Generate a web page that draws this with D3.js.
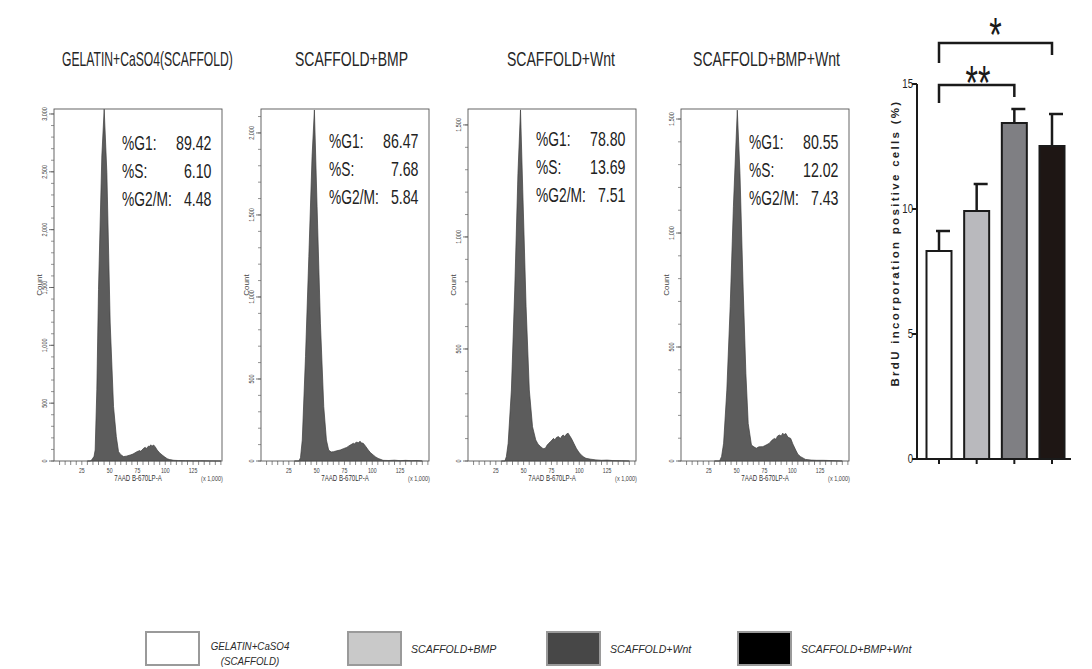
<!DOCTYPE html>
<html>
<head>
<meta charset="utf-8">
<script src="https://cdn.jsdelivr.net/npm/d3@7"></script>
<style>
  html, body { margin: 0; padding: 0; background: #fff; }
  svg { display: block; }
  text { font-family: 'Liberation Sans', Arial, Helvetica, sans-serif; }
</style>
</head>
<body>
<svg id="chart" width="1092" height="669"></svg>
<script>
// ---------------- DATA ----------------
const groups = ["GELATIN+CaSO4(SCAFFOLD)", "SCAFFOLD+BMP", "SCAFFOLD+Wnt", "SCAFFOLD+BMP+Wnt"];
const pctG1 = [89.42, 86.47, 78.80, 80.55];
const pctS = [6.10, 7.68, 13.69, 12.02];
const pctG2M = [4.48, 5.84, 7.51, 7.43];
const countMax = [3043, 2146, 1571, 1544];
const countTicks = [
  [0, 500, 1000, 1500, 2000, 2500, 3000],
  [0, 500, 1000, 1500, 2000],
  [0, 500, 1000, 1500],
  [0, 500, 1000, 1500]
];
const channelTicks = [25, 50, 75, 100, 125];

// histogram: [7AAD channel (x1000), count]
const hist1 = [[30,0],[32.5,0],[34,10],[36,40],[37,95],[38.5,615],[40,1482],[43,2637],[45.1,3042],[47.5,2493],[50.5,1193],[53.5,471],[56,211],[58,81],[60,55],[62.5,38],[65,42],[68.6,52],[71,60],[74.6,81],[77,90],[78,84],[80.6,110],[82,118],[83,108],[85.1,130],[86,125],[87,140],[88,128],[89.6,138],[91,122],[92.7,95],[95,70],[97.2,52],[99,38],[101.7,20],[104,12],[107.7,6],[112,4],[118,3],[125,2],[132,2],[140,1],[150,0]];
const hist2 = [[30,0],[34.1,0],[35.5,20],[37.1,128],[40,636],[43,1246],[45.9,1856],[48,2140],[50.4,1551],[53.4,840],[56.4,331],[58.8,128],[60.8,67],[63,55],[65.3,57],[68,62],[71.2,67],[74,75],[77.1,83],[79,92],[81,100],[83,108],[84,104],[85.5,115],[87.5,112],[89,120],[90.5,110],[91.9,108],[94,90],[96.4,67],[98.5,50],[100.8,37],[103,25],[105.3,16],[109.7,4],[115,3],[120,5],[125,2],[130,4],[135,2],[140,3],[145,0]];
const hist3 = [[30,0],[33.2,0],[34.5,20],[36.1,79],[39,317],[42,763],[44.9,1284],[47.2,1567],[49.2,1210],[52.2,689],[55.1,317],[58,153],[60.9,94],[63,75],[65.3,64],[67.5,55],[69.6,57],[71,70],[72.6,79],[74.5,88],[76.9,101],[78,94],[79.5,105],[81.3,109],[83,100],[84.5,112],[85.7,116],[87,108],[88.5,120],[90,124],[91.5,112],[92.9,101],[95,80],[97.3,57],[99.5,40],[101.7,27],[104,18],[106,12],[110.4,8],[115,5],[120,3],[125,4],[130,2],[138,1],[145,0]];
const hist4 = [[30,0],[34.7,0],[36.5,20],[38.3,78],[41.2,311],[44.2,677],[47.1,1115],[50.6,1539],[53,1262],[55.9,750],[58.3,385],[60.4,165],[63.3,70],[65.5,62],[67.7,56],[70,62],[73.6,63],[76.5,70],[79.5,78],[81.5,90],[83.9,99],[85.5,95],[86.5,108],[88.3,114],[90,110],[91.5,122],[92.5,115],[94.2,121],[96,105],[98.6,99],[100.5,75],[103.1,48],[105,30],[107.5,19],[111.9,7],[117,4],[122,3],[128,3],[134,2],[140,1],[145,0]];
const histograms = [hist1, hist2, hist3, hist4];

// BrdU bar chart
const brduMean = [8.32, 9.92, 13.44, 12.52];
const brduErr = [0.80, 1.08, 0.56, 1.28];
const brduTicks = [0, 5, 10, 15];
const sigPairs = [{a: 0, b: 2, label: "**"}, {a: 0, b: 3, label: "*"}];

const legendLabels = [["GELATIN+CaSO4", "(SCAFFOLD)"], ["SCAFFOLD+BMP"], ["SCAFFOLD+Wnt"], ["SCAFFOLD+BMP+Wnt"]];
const legendColors = ["#ffffff", "#c9c9c9", "#474747", "#000000"];
const barColors = ["#ffffff", "#b9b9bd", "#7f7f83", "#1e1614"];

// ---------------- DRAW ----------------
const svg = d3.select("#chart");
svg.append("rect").attr("width", 1092).attr("height", 669).attr("fill", "#fff");

// condensed text helper (no narrow font installed)
function narrow(parent, x, y, str, size, anchor, sx, fill) {
  return parent.append("text")
    .attr("transform", `translate(${x},${y}) scale(${sx},1)`)
    .attr("font-size", size).attr("text-anchor", anchor || "start")
    .attr("fill", fill || "#222").text(str);
}

const panelLeft = [54, 261, 468, 681];
const panelW = 168, panelTop = 109, panelBottom = 461;
const titleX = [62, 295, 507, 693];
const titleW = [171, 113, 108, 147];
const statBase = [150, 148, 146, 149];

groups.forEach((name, i) => {
  const g = svg.append("g");
  const x = d3.scaleLinear().domain([0, 151]).range([panelLeft[i], panelLeft[i] + panelW]);
  const y = d3.scaleLinear().domain([0, countMax[i]]).range([panelBottom, panelTop]);

  // title, horizontally condensed to the measured width
  const t = g.append("text")
    .attr("font-size", 20).attr("fill", "#262626")
    .text(name);
  const natural = t.node().getComputedTextLength();
  t.attr("transform", `translate(${titleX[i]},66) scale(${titleW[i] / natural},1)`);

  // histogram area
  const area = d3.area().x(d => x(d[0])).y0(y(0)).y1(d => y(d[1])).curve(d3.curveLinear);
  g.append("path").datum(histograms[i]).attr("d", area)
    .attr("fill", "#5c5c5c").attr("stroke", "#3c3c3c").attr("stroke-width", 0.7);

  // frame
  g.append("rect").attr("x", panelLeft[i]).attr("y", panelTop)
    .attr("width", panelW).attr("height", panelBottom - panelTop)
    .attr("fill", "none").attr("stroke", "#555").attr("stroke-width", 0.9);

  // y axis ticks
  const yMinor = d3.range(0, countMax[i], 100);
  g.selectAll(".ymin").data(yMinor).join("line")
    .attr("x1", panelLeft[i] - 3).attr("x2", panelLeft[i])
    .attr("y1", d => y(d)).attr("y2", d => y(d))
    .attr("stroke", "#666").attr("stroke-width", 0.7);
  g.selectAll(".ymaj").data(countTicks[i]).join("line")
    .attr("x1", panelLeft[i] - 5).attr("x2", panelLeft[i])
    .attr("y1", d => y(d)).attr("y2", d => y(d))
    .attr("stroke", "#555").attr("stroke-width", 0.8);
  g.selectAll(".ylab").data(countTicks[i]).join("text")
    .attr("font-size", 6.5).attr("fill", "#444")
    .attr("text-anchor", "middle")
    .attr("transform", d => `translate(${panelLeft[i] - 7},${y(d)}) rotate(-90) scale(0.85,1)`)
    .text(d => d3.format(",")(d));
  g.append("text").attr("font-size", 8).attr("fill", "#444")
    .attr("text-anchor", "middle")
    .attr("transform", `translate(${panelLeft[i] - 12},${(panelTop + panelBottom) / 2}) rotate(-90)`)
    .text("Count");

  // x axis ticks
  const xMinor = d3.range(5, 151, 5);
  g.selectAll(".xmin").data(xMinor).join("line")
    .attr("x1", d => x(d)).attr("x2", d => x(d))
    .attr("y1", panelBottom).attr("y2", panelBottom + 4)
    .attr("stroke", "#555").attr("stroke-width", 0.7);
  g.selectAll(".xlab").data(channelTicks).join("text")
    .attr("font-size", 6.5).attr("fill", "#444")
    .attr("text-anchor", "middle")
    .attr("transform", d => `translate(${x(d)},${panelBottom + 12}) scale(0.8,1)`)
    .text(d => d);
  narrow(g, panelLeft[i] + 84, panelBottom + 20, "7AAD B-670LP-A", 8.5, "middle", 0.72, "#333");
  narrow(g, panelLeft[i] + 158, panelBottom + 20, "(x 1,000)", 6.5, "middle", 0.85, "#444");

  // stats
  const statNames = ["%G1:", "%S:", "%G2/M:"];
  const statVals = [pctG1[i], pctS[i], pctG2M[i]];
  const sx0 = panelLeft[i] + 68, sx1 = panelLeft[i] + 157.5;
  statNames.forEach((s, k) => {
    const yy = statBase[i] + k * 28;
    narrow(g, sx0, yy, s, 20, "start", 0.69);
    narrow(g, sx1, yy, d3.format(".2f")(statVals[k]), 20, "end", 0.71);
  });
});

// ---------------- BrdU bar chart ----------------
const bx = d3.scalePoint().domain(d3.range(4)).range([939, 1052]);
const by = d3.scaleLinear().domain([0, 15]).range([459, 84]);
const barW = 25;
const bg = svg.append("g");

bg.selectAll(".err").data(brduMean).join("line")
  .attr("x1", (d, i) => bx(i)).attr("x2", (d, i) => bx(i))
  .attr("y1", d => by(d)).attr("y2", (d, i) => by(d + brduErr[i]))
  .attr("stroke", "#1a1a1a").attr("stroke-width", 2.5);
bg.selectAll(".cap").data(brduMean).join("line")
  .attr("x1", (d, i) => bx(i) - 3).attr("x2", (d, i) => bx(i) + 11)
  .attr("y1", (d, i) => by(d + brduErr[i])).attr("y2", (d, i) => by(d + brduErr[i]))
  .attr("stroke", "#1a1a1a").attr("stroke-width", 2.5);
bg.selectAll(".bar").data(brduMean).join("rect")
  .attr("x", (d, i) => bx(i) - barW / 2).attr("width", barW)
  .attr("y", d => by(d)).attr("height", d => by(0) - by(d))
  .attr("fill", (d, i) => barColors[i]).attr("stroke", "#1a1a1a").attr("stroke-width", 2);

// axes
bg.append("line").attr("x1", 917).attr("x2", 917).attr("y1", by(15)).attr("y2", by(0))
  .attr("stroke", "#1a1a1a").attr("stroke-width", 2);
bg.append("line").attr("x1", 916).attr("x2", 1071).attr("y1", by(0)).attr("y2", by(0))
  .attr("stroke", "#1a1a1a").attr("stroke-width", 2);
bg.selectAll(".yt").data(brduTicks).join("line")
  .attr("x1", 912).attr("x2", 917).attr("y1", d => by(d)).attr("y2", d => by(d))
  .attr("stroke", "#1a1a1a").attr("stroke-width", 2);
bg.selectAll(".ytl").data(brduTicks).join("text")
  .attr("font-size", 12).attr("fill", "#222")
  .attr("text-anchor", "end")
  .attr("transform", d => `translate(913,${by(d) + 4}) scale(0.8,1)`)
  .text(d => d);
bg.selectAll(".xt").data(d3.range(4)).join("line")
  .attr("x1", d => bx(d)).attr("x2", d => bx(d)).attr("y1", by(0)).attr("y2", by(0) + 5)
  .attr("stroke", "#1a1a1a").attr("stroke-width", 2);
bg.append("text").attr("font-size", 11.5).attr("font-weight", "bold")
  .attr("fill", "#222").attr("text-anchor", "middle")
  .attr("letter-spacing", 2.3)
  .attr("transform", `translate(899,243) rotate(-90)`)
  .text("BrdU incorporation positive cells (%)");

// significance brackets
const bracketY = [85, 43];
const legL = [103, 63];
const legR = [97, 55];
const starBase = [99, 51];
sigPairs.forEach((p, k) => {
  const x1 = bx(p.a), x2 = bx(p.b);
  bg.append("path")
    .attr("d", `M${x1},${legL[k]}V${bracketY[k]}H${x2}V${legR[k]}`)
    .attr("fill", "none").attr("stroke", "#1a1a1a").attr("stroke-width", 2.5);
  bg.append("text").attr("font-size", 32).attr("fill", "#1a1a1a")
    .attr("text-anchor", "middle")
    .attr("transform", `translate(${k === 0 ? 978 : 995.5},${starBase[k]}) scale(1,1.5)`)
    .text(p.label);
});

// ---------------- Legend ----------------
const legX = [146, 348, 547, 738];
const lg = svg.append("g");
legendColors.forEach((c, i) => {
  lg.append("rect").attr("x", legX[i]).attr("y", 632).attr("width", 53).attr("height", 33)
    .attr("fill", c).attr("stroke", "#9a9a9a").attr("stroke-width", 2);
  const lines = legendLabels[i];
  lines.forEach((t, j) => {
    lg.append("text").attr("font-size", 11.5).attr("font-style", "italic")
      .attr("fill", "#2a2a2a").attr("text-anchor", lines.length > 1 ? "middle" : "start")
      .attr("transform", lines.length > 1
        ? `translate(${legX[i] + 104},${650 + j * 15}) scale(0.85,1)`
        : `translate(${legX[i] + 63},${653}) scale(0.92,1)`)
      .text(t);
  });
});
</script>
</body>
</html>
